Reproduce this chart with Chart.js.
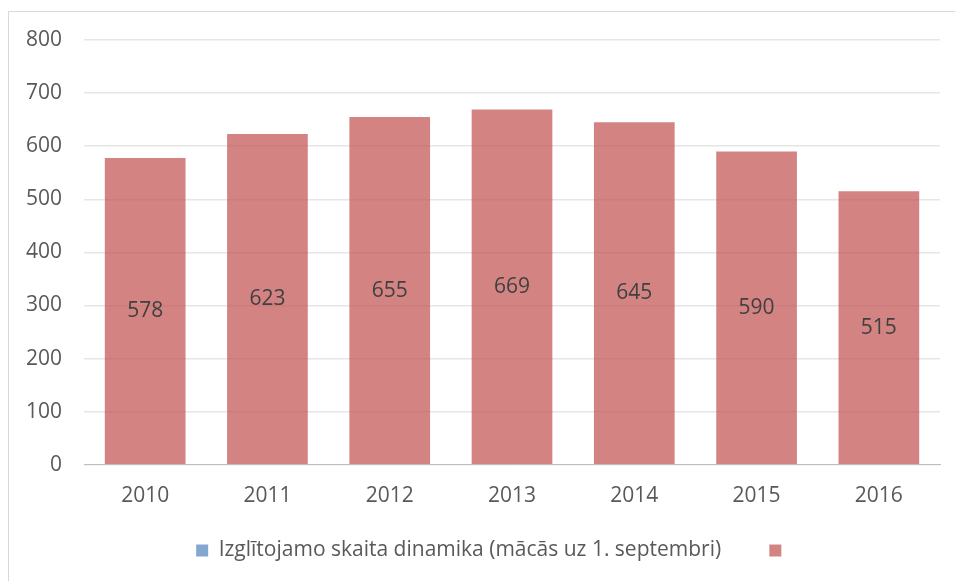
<!DOCTYPE html>
<html>
<head>
<meta charset="utf-8">
<script src="https://cdn.jsdelivr.net/npm/chart.js@4"></script>
<style>
  html, body { margin:0; padding:0; background:#fff; overflow:hidden; }
  #wrap { position:relative; width:955px; height:581px; }
  #frame { position:absolute; left:8px; top:11px; width:1000px; height:1000px;
           border-left:1px solid #d9d9d9; border-top:1px solid #d9d9d9; }
  #chart-1 { position:absolute; left:0; top:0; }
</style>
</head>
<body>
<div id="wrap">
  <div id="frame"></div>
  <canvas id="chart-1" width="955" height="581"></canvas>
</div>
<script>
const years = ['2010','2011','2012','2013','2014','2015','2016'];
const seriesLabel = 'Izglītojamo skaita dinamika (mācās uz 1. septembri)';
const students = [578, 623, 655, 669, 645, 590, 515];
const emptySeries = [null, null, null, null, null, null, null];
const yTicks = [0, 100, 200, 300, 400, 500, 600, 700, 800];

// labels drawn in the middle of every bar
const centerLabels = {
    id: 'centerLabels',
    afterDatasetsDraw(chart) {
        const ctx = chart.ctx;
        ctx.save();
        ctx.font = '21px "Open Sans"';
        ctx.fillStyle = '#404040';
        ctx.textAlign = 'center';
        ctx.textBaseline = 'middle';
        chart.getDatasetMeta(1).data.forEach(function(bar, i) {
            const p = bar.getProps(['x', 'y', 'base'], true);
            ctx.fillText(students[i], p.x, (p.y + p.base) / 2);
        });
        ctx.restore();
    }
};

// the legend sits a bit right of the canvas centre
const legendShift = {
    id: 'legendShift',
    afterLayout(chart) {
        chart.legend.left += 22;
        chart.legend.right += 22;
    }
};

const el = document.getElementById('chart-1');
const chart1 = new Chart(el, {
    type: 'bar',
    data: {
        labels: years,
        datasets: [{
            label: seriesLabel,
            data: emptySeries,
            backgroundColor: 'rgba(79,129,189,0.7)',
            borderWidth: 0
        }, {
            label: '',
            data: students,
            backgroundColor: 'rgba(192,80,77,0.7)',
            borderWidth: 0
        }]
    },
    options: {
        responsive: false,
        animation: false,
        layout: { padding: { top: 40, right: 15, left: 4, bottom: 10 } },
        datasets: { bar: { grouped: false, categoryPercentage: 1, barPercentage: 0.66 } },
        scales: {
            x: {
                grid: { display: false },
                border: { color: '#bfbfbf' },
                ticks: { color: '#595959', font: { size: 21, family: 'Open Sans' }, padding: 11 },
                afterFit: function(scale) { scale.height += 10; }
            },
            y: {
                min: 0, max: 800,
                afterBuildTicks: function(axis) { axis.ticks = yTicks.map(v => ({ value: v })); },
                grid: { color: '#e6e6e6', drawTicks: false, lineWidth: 1.5 },
                border: { display: false },
                ticks: { color: '#595959', font: { size: 21, family: 'Open Sans' }, padding: 22 }
            }
        },
        plugins: {
            legend: {
                display: true,
                position: 'bottom',
                labels: {
                    boxWidth: 12, boxHeight: 12, padding: 10,
                    color: '#595959',
                    font: { size: 21, family: 'Open Sans' },
                    generateLabels: function(chart) {
                        const items = Chart.defaults.plugins.legend.labels.generateLabels(chart);
                        // extra room between the two legend entries
                        items[0].text = items[0].text + '       ';
                        return items;
                    }
                }
            },
            tooltip: { enabled: false }
        }
    },
    plugins: [centerLabels, legendShift]
});
</script>
</body>
</html>
